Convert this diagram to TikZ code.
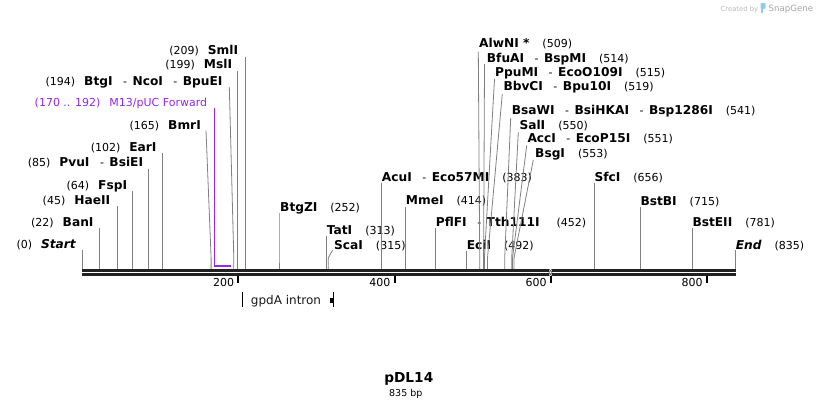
\documentclass[tikz,border=0pt]{standalone}
\usepackage{fontspec}
\setmainfont{DejaVu Sans}
\definecolor{primer}{RGB}{150,40,230}
\definecolor{sgblue}{RGB}{150,200,235}
\newcommand{\en}[1]{{\fontsize{12.2}{14}\selectfont\bfseries #1}}
\newcommand{\ens}[1]{{\fontsize{12.2}{14}\selectfont\bfseries\itshape #1}}
\newcommand{\sepd}{\hspace{10.5pt}-\hspace{5.5pt}}
\newcommand{\ldr}[3]{\draw[leader] (#1,#2) -- (#3,258) -- (#3,269);}
\begin{document}
\begin{tikzpicture}[x=1pt,y=-1pt,
  lab/.style={inner sep=0pt, font=\fontsize{11}{13}\selectfont},
  leader/.style={draw=black!50, line width=0.8pt},
  bb/.style={draw=black!87, line width=2.5pt},
  tickm/.style={draw=black, line width=2pt}]
\useasboundingbox (0,0) rectangle (818,408);
\fill[white] (0,0) rectangle (818,408);

% watermark
\node[anchor=base west, inner sep=0, text=black!28, font=\fontsize{6.8}{8}\selectfont] (wm1) at (720.5,11) {Created by};
\fill[sgblue, rounded corners=1pt] (760.5,3) rectangle (765.5,9);
\fill[sgblue] (760.5,8) rectangle (762.5,13);
\node[anchor=base west, inner sep=0, text=black!35, font=\fontsize{8.6}{10}\selectfont] (wm2) at (768.5,11.3) {SnapGene};

% left labels
\node[lab,anchor=base east] (l0) at (76,248.6) {(0)\hspace{9pt}\ens{Start}};
\node[lab,anchor=base east] (l22) at (93.7,226) {(22)\hspace{9pt}\en{BanI}};
\node[lab,anchor=base east] (l45) at (110.3,204.3) {(45)\hspace{9pt}\en{HaeII}};
\node[lab,anchor=base east] (l64) at (127.3,189.3) {(64)\hspace{9pt}\en{FspI}};
\node[lab,anchor=base east] (l85) at (143.3,166.6) {(85)\hspace{9pt}\en{PvuI}\sepd\en{BsiEI}};
\node[lab,anchor=base east] (l102) at (156.7,151) {(102)\hspace{9pt}\en{EarI}};
\node[lab,anchor=base east] (l165) at (201,129.3) {(165)\hspace{9pt}\en{BmrI}};
\node[lab,anchor=base east,text=primer] (lm13) at (207.3,106) {(170 .. 192)\hspace{9pt}M13/pUC Forward};
\node[lab,anchor=base east] (l194) at (222.7,85) {(194)\hspace{9pt}\en{BtgI}\sepd\en{NcoI}\sepd\en{BpuEI}};
\node[lab,anchor=base east] (l199) at (232.3,68.6) {(199)\hspace{9pt}\en{MslI}};
\node[lab,anchor=base east] (l209) at (238.3,54.3) {(209)\hspace{9pt}\en{SmlI}};

\ldr{82.3}{250}{82.3}
\ldr{99.5}{228.3}{99.5}
\ldr{117.4}{206}{117.4}
\ldr{132.3}{191}{132.3}
\ldr{148.7}{169}{148.7}
\ldr{161.9}{153.3}{161.9}
\ldr{206}{130.5}{211.1}
\ldr{229.3}{87}{233.8}
\ldr{237.7}{71}{237.7}
\ldr{245.5}{56.5}{245.5}

% primer
\draw[primer, line width=1.3pt] (214.5,108.3) -- (214.5,265.8);
\draw[primer, line width=2pt] (213.9,265.8) -- (230.8,265.8);

% middle labels
\node[lab,anchor=base west] (r252) at (280,211) {\en{BtgZI}\hspace{13pt}(252)};
\node[lab,anchor=base west] (r313) at (326.7,234.3) {\en{TatI}\hspace{13pt}(313)};
\node[lab,anchor=base west] (r315) at (334,249.3) {\en{ScaI}\hspace{13pt}(315)};
\node[lab,anchor=base west] (r383) at (381.7,181) {\en{AcuI}\sepd\en{Eco57MI}\hspace{13pt}(383)};
\node[lab,anchor=base west] (r414) at (405.7,204.3) {\en{MmeI}\hspace{13pt}(414)};
\node[lab,anchor=base west] (r452) at (435.7,226) {\en{PflFI}\sepd\en{Tth111I}\hspace{17pt}(452)};
\node[lab,anchor=base west] (r492) at (466.7,249.3) {\en{EciI}\hspace{13pt}(492)};

\ldr{279}{213.3}{279}
\ldr{326.7}{236}{326.7}
\ldr{332.7}{250}{328.2}
\ldr{381.3}{183.3}{381.3}
\ldr{405.5}{206.7}{405.5}
\ldr{435.2}{228}{435.2}
\ldr{466.4}{250.5}{466.4}

% top cluster
\node[lab,anchor=base west] (r509) at (479,47.6) {\en{AlwNI *}\hspace{13pt}(509)};
\node[lab,anchor=base west] (r514) at (486.7,62.6) {\en{BfuAI}\sepd\en{BspMI}\hspace{13pt}(514)};
\node[lab,anchor=base west] (r515) at (495,76.6) {\en{PpuMI}\sepd\en{EcoO109I}\hspace{13pt}(515)};
\node[lab,anchor=base west] (r519) at (503.3,90.3) {\en{BbvCI}\sepd\en{Bpu10I}\hspace{13pt}(519)};
\node[lab,anchor=base west] (r541) at (511.7,114.3) {\en{BsaWI}\sepd\en{BsiHKAI}\sepd\en{Bsp1286I}\hspace{13pt}(541)};
\node[lab,anchor=base west] (r550) at (519.3,129.3) {\en{SalI}\hspace{13pt}(550)};
\node[lab,anchor=base west] (r551) at (527.3,142.6) {\en{AccI}\sepd\en{EcoP15I}\hspace{13pt}(551)};
\node[lab,anchor=base west] (r553) at (535,157.6) {\en{BsgI}\hspace{13pt}(553)};

\ldr{478.3}{51.7}{479.7}
\ldr{484.5}{64}{483.6}
\ldr{494.5}{78.8}{484.4}
\ldr{502.3}{93.8}{487.5}
\ldr{510.7}{117.8}{504.7}
\ldr{518.3}{132.2}{511.7}
\ldr{526.7}{145.5}{512.5}
\ldr{533.3}{159.8}{514}

% right labels
\node[lab,anchor=base west] (r656) at (594.3,181) {\en{SfcI}\hspace{13pt}(656)};
\node[lab,anchor=base west] (r715) at (640.3,205) {\en{BstBI}\hspace{13pt}(715)};
\node[lab,anchor=base west] (r781) at (692.3,226.6) {\en{BstEII}\hspace{13pt}(781)};
\node[lab,anchor=base west] (r835) at (735.7,249.3) {\ens{End}\hspace{13pt}(835)};

\ldr{594.5}{183.3}{594.5}
\ldr{640.5}{206.7}{640.5}
\ldr{692}{228.3}{692}
\ldr{735.5}{250}{735.5}

% backbone
\draw[bb] (82,270.5) -- (736.3,270.5);
\draw[bb] (82,274.5) -- (736.3,274.5);
\fill[white] (548.9,268.6) rectangle (552.1,276.4);
\draw[black!75, line width=0.5pt] (548.9,269) -- (552.1,272.5) (552.1,269) -- (548.9,272.5)
  (548.9,272.5) -- (552.1,276) (552.1,272.5) -- (548.9,276);

% ticks
\foreach \tx/\tl in {238.4/200, 394.6/400, 550.7/600, 706.9/800}{
  \draw[tickm] (\tx,276) -- (\tx,283);
  \node[lab,anchor=base east] at (\tx-4,286.5) {\tl};
}

% feature
\draw[black, line width=1.2pt] (242.3,291.7) -- (242.3,307.3);
\draw[black, line width=1.2pt] (333.3,291.7) -- (333.3,307.3);
\fill[black] (330.2,298) rectangle (332.7,302.5);
\node[inner sep=0, anchor=base, font=\fontsize{12}{14}\selectfont, text=black!90] (feat) at (286,304) {gpdA intron};

% title
\node[inner sep=0, anchor=base, font=\fontsize{13.7}{16}\selectfont\bfseries] (title) at (408.8,382.5) {pDL14};
\node[inner sep=0, anchor=base, font=\fontsize{9.5}{11}\selectfont] (size) at (405.8,396) {835 bp};
\end{tikzpicture}
\end{document}
